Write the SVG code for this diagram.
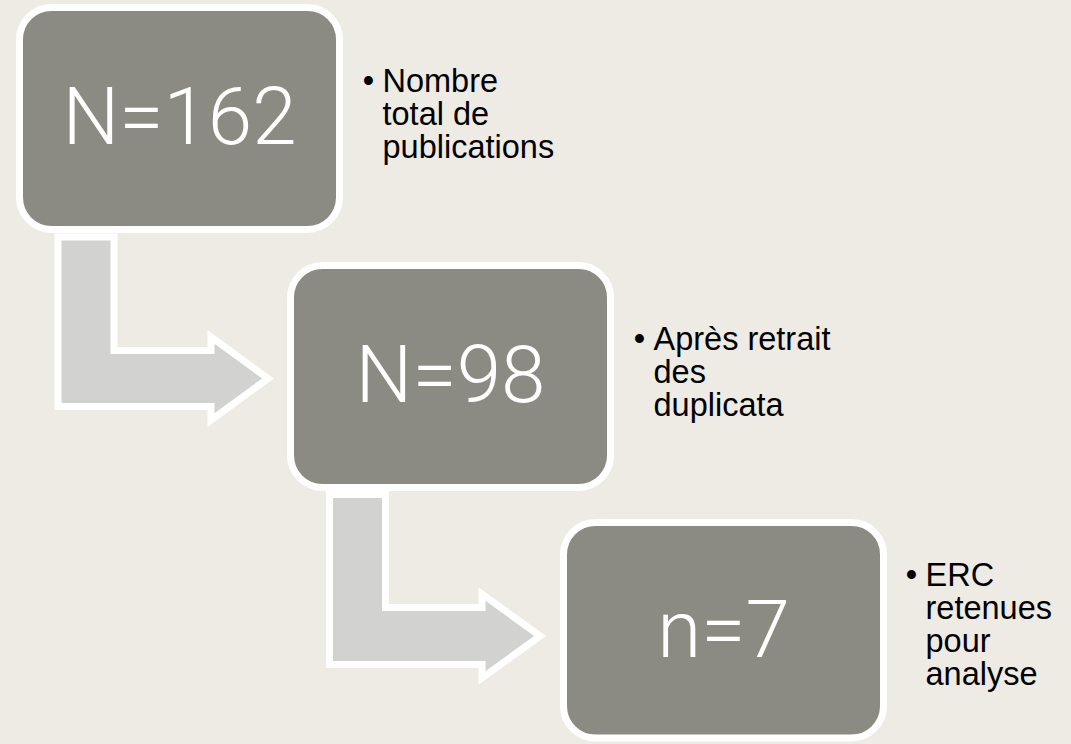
<svg xmlns="http://www.w3.org/2000/svg" width="1071" height="744" viewBox="0 0 1071 744">
  <style>
    .box { fill: #8B8B84; stroke: #FFFFFF; stroke-width: 7; }
    .arrow { fill: #D2D2D0; stroke: #FFFFFF; stroke-width: 7; stroke-linejoin: miter; stroke-miterlimit: 4; }
    .num { font-family: Roboto, "Liberation Sans", Arial, sans-serif; font-weight: 300; font-size: 80px; fill: #FFFFFF; text-anchor: middle; }
    .lbl { font-family: "Liberation Sans", Arial, sans-serif; font-size: 32.5px; fill: #000000; }
    .dot { font-family: "Liberation Sans", Arial, sans-serif; font-size: 32.5px; fill: #000000; text-anchor: middle; }
  </style>
  <rect x="0" y="0" width="1071" height="744" fill="#EEEBE4"/>

  <g id="connectors">
    <path class="arrow" d="M58,237 H114 V350.5 H211 V337 L268,378.5 L211,420 V406.5 H58 Z"/>
    <path class="arrow" d="M329.5,494.5 H385.5 V607.5 H482 V594 L540,636 L482,678 V664.5 H329.5 Z"/>
  </g>

  <g id="node1">
    <rect class="box" x="19.5" y="7.5" width="320" height="222" rx="32" ry="32"/>
    <text class="num" x="179.5" y="144">N=162</text>
  </g>
  <g id="label1">
    <text class="dot" x="368.5" y="92">•</text>
    <text class="lbl" x="382.5" y="92">Nombre</text>
    <text class="lbl" x="382.5" y="125">total de</text>
    <text class="lbl" x="382.5" y="158">publications</text>
  </g>

  <g id="node2">
    <rect class="box" x="290.5" y="265.5" width="320" height="222" rx="32" ry="32"/>
    <text class="num" x="450.5" y="402">N=98</text>
  </g>
  <g id="label2">
    <text class="dot" x="639.5" y="350">•</text>
    <text class="lbl" x="653.5" y="350">Après retrait</text>
    <text class="lbl" x="653.5" y="383">des</text>
    <text class="lbl" x="653.5" y="416">duplicata</text>
  </g>

  <g id="node3">
    <rect class="box" x="563.5" y="522.5" width="320" height="215.5" rx="32" ry="32"/>
    <text class="num" x="723.5" y="657">n=7</text>
  </g>
  <g id="label3">
    <text class="dot" x="911.5" y="586">•</text>
    <text class="lbl" x="925.5" y="586">ERC</text>
    <text class="lbl" x="925.5" y="619">retenues</text>
    <text class="lbl" x="925.5" y="652">pour</text>
    <text class="lbl" x="925.5" y="685">analyse</text>
  </g>
</svg>
